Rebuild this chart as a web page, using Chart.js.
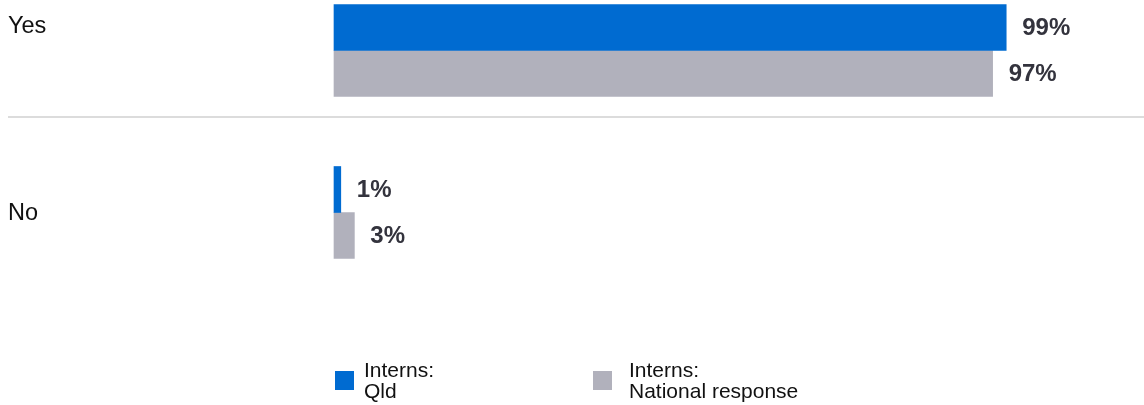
<!DOCTYPE html>
<html>
<head>
<meta charset="utf-8">
<script src="https://cdn.jsdelivr.net/npm/chart.js@4.4.1/dist/chart.umd.min.js"></script>
<style>
  html, body { margin: 0; padding: 0; background: #fff; }
  #wrap { width: 1144px; height: 405px; }
</style>
</head>
<body>
<div id="wrap"><canvas id="interns-bar" width="1144" height="405"></canvas></div>
<script>
// data
const categories = ["Yes", "No"];
const qldValues = [99, 1];
const nationalValues = [97, 3];
const seriesLines = [["Interns:", "Qld"], ["Interns:", "National response"]];

const BLUE = "#006bd1";
const GREY = "#b1b1bc";
const FONT = "'Liberation Sans', Arial, sans-serif";

// draws the "99%" style labels at the end of each bar
const valueLabels = {
  id: "valueLabels",
  afterDatasetsDraw(chart) {
    const ctx = chart.ctx;
    ctx.save();
    ctx.font = "bold 24px " + FONT;
    ctx.fillStyle = "#33333d";
    ctx.textBaseline = "middle";
    chart.data.datasets.forEach((ds, i) => {
      chart.getDatasetMeta(i).data.forEach((bar, j) => {
        ctx.fillText(ds.data[j] + "%", bar.x + 16, bar.y + 1);
      });
    });
    ctx.restore();
  }
};

// category labels on the left plus the row separator
const rowLabels = {
  id: "rowLabels",
  afterDraw(chart) {
    const ctx = chart.ctx;
    const y = chart.scales.y;
    const shift = [-24, 1];
    ctx.save();
    ctx.font = "23.5px " + FONT;
    ctx.fillStyle = "#111";
    ctx.textBaseline = "middle";
    categories.forEach((c, i) => {
      ctx.fillText(c, 8, y.getPixelForValue(i) + shift[i]);
    });
    const sepY = y.getPixelForValue(0) + 46 + 20.5;
    ctx.strokeStyle = "#dcdcdc";
    ctx.lineWidth = 2;
    ctx.beginPath();
    ctx.moveTo(8, sepY);
    ctx.lineTo(chart.width, sepY);
    ctx.stroke();
    ctx.restore();
  }
};

// legend with two-line labels
const bottomLegend = {
  id: "bottomLegend",
  afterDraw(chart) {
    const ctx = chart.ctx;
    const left = chart.chartArea.left;
    const boxOffset = [1, 259];
    const textOffset = [30, 295];
    ctx.save();
    ctx.font = "21px " + FONT;
    ctx.textBaseline = "alphabetic";
    chart.data.datasets.forEach((ds, i) => {
      ctx.fillStyle = ds.backgroundColor;
      ctx.fillRect(left + boxOffset[i], 371, 19, 19);
      ctx.fillStyle = "#111";
      seriesLines[i].forEach((t, k) => {
        ctx.fillText(t, left + textOffset[i], 377 + k * 21);
      });
    });
    ctx.restore();
  }
};

const ctx = document.getElementById("interns-bar").getContext("2d");

new Chart(ctx, {
  type: "bar",
  data: {
    labels: categories,
    datasets: [
      {
        label: seriesLines[0].join(" "),
        data: qldValues,
        backgroundColor: BLUE
      },
      {
        label: seriesLines[1].join(" "),
        data: nationalValues,
        backgroundColor: GREY
      }
    ]
  },
  options: {
    indexAxis: "y",
    responsive: false,
    animation: false,
    layout: {
      padding: { left: 334, right: 131, top: 50.5, bottom: 192.5 }
    },
    datasets: {
      bar: { barThickness: 46, borderWidth: 0, clip: false }
    },
    scales: {
      x: { min: 0, max: 100, display: false },
      y: { display: false, offset: false }
    },
    plugins: {
      legend: { display: false },
      tooltip: { enabled: false }
    }
  },
  plugins: [valueLabels, rowLabels, bottomLegend]
});
</script>
</body>
</html>
